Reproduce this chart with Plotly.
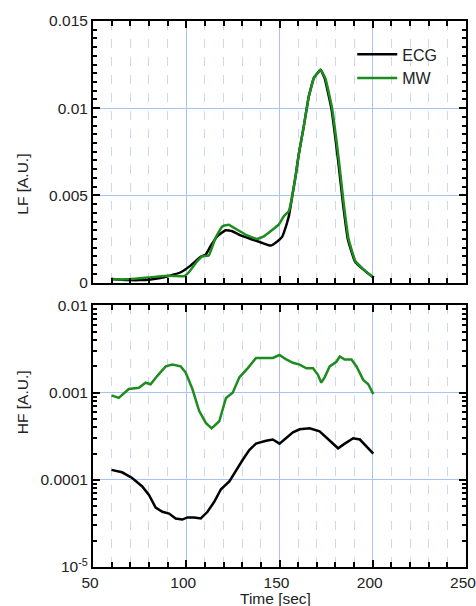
import plotly.graph_objects as go
from plotly.subplots import make_subplots

# ---- LF data ----
lf_ecg_t = [59.9, 65, 70.2, 75, 80.9, 86, 89.9, 93.5, 97, 102.3, 107.7, 110.4, 113, 116.6, 121.1, 124.7, 129.1,
            134.5, 139.8, 145.2, 148.8, 151.4, 152.3, 155, 156.8, 158.6, 160.3, 163, 165.7, 168.4, 172, 174.2,
            177.8, 181.4, 184, 186.7, 190.4, 195, 200.5]
lf_ecg = [0.0002, 0.00016, 0.00014, 0.00014, 0.00018, 0.00026, 0.00036, 0.00046, 0.00059, 0.00097, 0.00147,
          0.0016, 0.00208, 0.00265, 0.0030, 0.00294, 0.0027, 0.0025, 0.00231, 0.00212, 0.00236, 0.00262,
          0.00285, 0.0038, 0.00494, 0.00609, 0.00733, 0.00895, 0.01067, 0.01172, 0.0122, 0.01172, 0.0100,
          0.00704, 0.00456, 0.00246, 0.00122, 0.00074, 0.00027]
lf_mw_t = [59.9, 65, 70.2, 75, 80.9, 85, 89.9, 94, 98.8, 101.4, 105.9, 108.6, 112.1, 115.7, 119.3, 122.8,
           127.3, 132.7, 138, 141.6, 145.2, 149.6, 152.3, 155, 156.8, 158.6, 160.3, 163, 165.7, 168.4, 172,
           174.6, 178.2, 181.8, 184.4, 187.1, 190.7, 195.2, 200.5]
lf_mw = [0.0002, 0.00018, 0.0002, 0.00025, 0.0003, 0.00035, 0.00039, 0.00038, 0.00036, 0.00059, 0.00122,
         0.0015, 0.00155, 0.00256, 0.00322, 0.00332, 0.00303, 0.0027, 0.0025, 0.00265, 0.00294, 0.00332,
         0.0038, 0.0041, 0.00494, 0.00609, 0.00733, 0.00895, 0.01067, 0.01172, 0.0122, 0.01172, 0.0100,
         0.00704, 0.00456, 0.00246, 0.00122, 0.00074, 0.00027]

# ---- HF data ----
hf_mw_t = [59.9, 63.8, 69.2, 74.6, 78.2, 80.9, 84.5, 89, 92.5, 97, 99.7, 103.3, 106.9, 110.5, 113.6, 117.7,
           121.3, 124.9, 128.5, 132.9, 137.4, 142.8, 146.4, 150, 153.6, 157.2, 160.8, 164.4, 168, 170.6,
           172.4, 174.2, 176.9, 180.5, 182.3, 185, 188.6, 191.3, 194.9, 197.6, 200.3]
hf_mw = [0.00093, 0.00087, 0.0011, 0.00114, 0.0013, 0.00125, 0.00156, 0.002, 0.0021, 0.002, 0.0017, 0.0011,
         0.00062, 0.00045, 0.00039, 0.00047, 0.00087, 0.001, 0.0015, 0.0019, 0.0025, 0.0025, 0.0025, 0.0027,
         0.0024, 0.0022, 0.0021, 0.0019, 0.0019, 0.0016, 0.0013, 0.0015, 0.002, 0.00226, 0.0026, 0.0024,
         0.0024, 0.002, 0.0014, 0.00125, 0.00096]
hf_ecg_t = [59.9, 65.6, 71, 76.4, 80, 83.6, 87.2, 90.8, 94.3, 97.9, 100.6, 104.2, 107.8, 111.4, 115, 118.6,
            123.1, 126.7, 130.3, 133.8, 137.4, 142.8, 146.4, 150, 153.6, 157.2, 160.8, 166.2, 171.5, 176.9,
            181.4, 185, 189.5, 193.1, 196.7, 200.3]
hf_ecg = [0.00013, 0.000122, 0.000105, 8.4e-5, 6.7e-5, 4.8e-5, 4.3e-5, 4.1e-5, 3.6e-5, 3.5e-5, 3.7e-5, 3.7e-5,
          3.6e-5, 4.3e-5, 5.6e-5, 7.8e-5, 9.6e-5, 0.00013, 0.00017, 0.00022, 0.00026, 0.00028, 0.00029,
          0.00026, 0.0003, 0.00035, 0.00038, 0.00039, 0.00036, 0.00028, 0.00023, 0.00026, 0.0003, 0.00029,
          0.00024, 0.0002]

x_ticks = [50, 100, 150, 200, 250]
lf_ticks = [0, 0.005, 0.01, 0.015]
lf_tick_text = ["0", "0.005", "0.01", "0.015"]
hf_ticks = [1e-5, 1e-4, 1e-3, 1e-2]
hf_tick_text = ["10<sup>-5</sup>", "0.0001", "0.001", "0.01"]

BLACK = "#000000"
GREEN = "#1e8c1e"
GRID = "#a9c2f5"
GRID_MINOR = "#c9d8f8"
FONT = "Liberation Sans, Arial, sans-serif"
TXT = "#222222"
FS = 15.5

fig = make_subplots(rows=2, cols=1, shared_xaxes=False, vertical_spacing=0.042)

fig.add_trace(go.Scatter(x=lf_ecg_t, y=lf_ecg, mode="lines", name="ECG",
                         line=dict(color=BLACK, width=2.5, shape="spline", smoothing=0.3)), row=1, col=1)
fig.add_trace(go.Scatter(x=lf_mw_t, y=lf_mw, mode="lines", name="MW",
                         line=dict(color=GREEN, width=2.5, shape="spline", smoothing=0.3)), row=1, col=1)
fig.add_trace(go.Scatter(x=hf_mw_t, y=hf_mw, mode="lines", showlegend=False,
                         line=dict(color=GREEN, width=2.5)), row=2, col=1)
fig.add_trace(go.Scatter(x=hf_ecg_t, y=hf_ecg, mode="lines", showlegend=False,
                         line=dict(color=BLACK, width=2.5)), row=2, col=1)

xcommon = dict(range=[50, 250], tickvals=x_ticks, ticks="inside", ticklen=7, tickwidth=2,
               tickcolor="black", showline=True, linecolor="black", linewidth=2, mirror="allticks",
               showgrid=True, gridcolor=GRID, gridwidth=1, ticklabeloverflow="allow", automargin=False,
               ticklabelshift=-3,
               minor=dict(dtick=10, tick0=50, ticks="inside", ticklen=5, tickwidth=2, tickcolor="black",
                          showgrid=True, gridcolor=GRID_MINOR, griddash="dash", gridwidth=1),
               zeroline=False, tickfont=dict(family=FONT, size=FS, color=TXT))
fig.update_xaxes(**xcommon, showticklabels=False, row=1, col=1)
fig.update_xaxes(**xcommon, showticklabels=True, row=2, col=1)

ycommon = dict(ticks="inside", ticklen=7, tickwidth=2, tickcolor="black", showline=True, linecolor="black",
               linewidth=2, mirror="allticks", showgrid=True, gridcolor=GRID, zeroline=False, automargin=False,
               tickfont=dict(family=FONT, size=FS, color=TXT))
fig.update_yaxes(**ycommon, range=[0, 0.015], tickvals=lf_ticks, ticktext=lf_tick_text,
                 minor=dict(dtick=0.0005, ticks="inside", ticklen=4, tickwidth=2, tickcolor="black",
                            showgrid=False), row=1, col=1)
fig.update_yaxes(**ycommon, type="log", range=[-5, -2], tickvals=hf_ticks, ticktext=hf_tick_text,
                 minor=dict(dtick="D1", ticks="inside", ticklen=4, tickwidth=2, tickcolor="black",
                            showgrid=False), row=2, col=1)

fig.update_layout(
    width=476, height=606,
    margin=dict(l=93, r=10, t=21, b=39),
    plot_bgcolor="white", paper_bgcolor="white",
    font=dict(family=FONT, size=FS, color=TXT),
    legend=dict(x=0.695, y=0.97, xanchor="left", yanchor="top", bgcolor="rgba(0,0,0,0)",
                font=dict(family=FONT, size=16, color=TXT), itemwidth=40, tracegroupgap=2),
    annotations=[
        dict(text="LF [A.U.]", x=-0.19, y=0.76, xref="paper", yref="paper", textangle=-90,
             xanchor="center", showarrow=False, font=dict(family=FONT, size=FS, color=TXT)),
        dict(text="HF [A.U.]", x=-0.187, y=0.24, xref="paper", yref="paper", textangle=-90,
             xanchor="center", showarrow=False, font=dict(family=FONT, size=FS, color=TXT)),
        dict(text="Time [sec]", x=0.49, y=-0.057, xref="paper", yref="paper", yanchor="middle",
             showarrow=False, font=dict(family=FONT, size=FS, color=TXT)),
    ],
)

fig.write_html("out.html")
